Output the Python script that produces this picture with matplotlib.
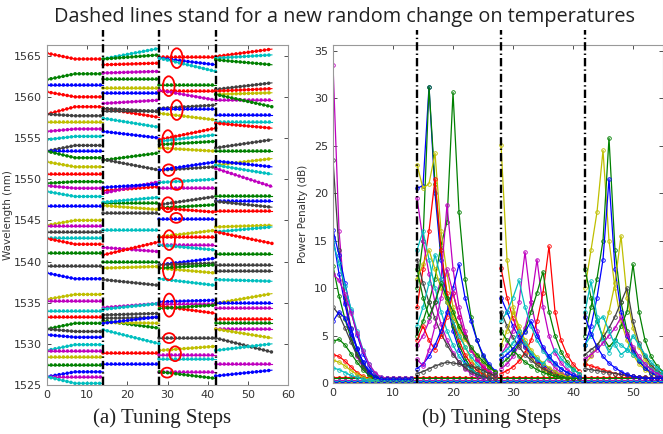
import numpy as np
import matplotlib
matplotlib.use("Agg")
import matplotlib.pyplot as plt
from matplotlib.patches import Ellipse

plt.rcParams['lines.scale_dashes'] = False

# matlab style colours
C = {'b': '#0000ff', 'g': '#008000', 'r': '#ff0000', 'c': '#00bfbf',
     'm': '#bf00bf', 'y': '#bfbf00', 'k': '#404040'}

# segment boundaries (tuning steps) and the kink inside segment 1
seg_bounds = [0, 14, 28, 42, 56]
kink1 = 7

# ---------------- (a) wavelengths ----------------
lam1_col = ['r', 'g', 'b', 'r', 'r', 'k', 'y', 'm', 'c', 'k', 'b', 'g', 'y', 'r', 'g', 'm', 'c', 'b', 'y', 'm',
            'k', 'c', 'r', 'g', 'k', 'b', 'y', 'm', 'c', 'r', 'g', 'k', 'b', 'c', 'm', 'y', 'g', 'b', 'm', 'c']
lam1_start = [1565.3, 1562.1, 1561.4, 1560.6, 1557.9, 1557.9, 1557.0, 1555.8, 1554.8, 1553.4,
              1553.4, 1553.4, 1552.1, 1550.6, 1549.5, 1549.2, 1548.5, 1546.8, 1544.4, 1544.3,
              1543.6, 1542.8, 1542.8, 1541.0, 1539.4, 1538.6, 1535.4, 1535.2, 1534.0, 1533.2,
              1531.8, 1531.8, 1531.1, 1529.2, 1529.1, 1528.4, 1527.4, 1526.0, 1526.0, 1526.0]
lam1_end = [1564.6, 1562.8, 1561.4, 1560.0, 1558.8, 1557.7, 1557.0, 1556.1, 1555.2, 1554.1,
            1553.4, 1552.6, 1551.5, 1550.6, 1549.7, 1548.9, 1547.9, 1546.8, 1545.0, 1544.3,
            1543.6, 1542.8, 1542.1, 1541.0, 1539.4, 1537.9, 1536.0, 1535.2, 1534.0, 1533.2,
            1532.5, 1531.5, 1530.8, 1529.9, 1529.1, 1528.4, 1527.4, 1526.6, 1526.0, 1525.2]

lam2_col = ['c', 'g', 'r', 'm', 'g', 'y', 'b', 'm', 'r', 'k', 'k', 'c', 'b', 'g', 'k', 'r', 'm', 'b', 'g',
            'c', 'y', 'k', 'c', 'm', 'r', 'g', 'y', 'k', 'm', 'c', 'k', 'k', 'g', 'y', 'b', 'c', 'r', 'b']
lam2_start = [1564.6, 1564.6, 1563.9, 1562.9, 1562.2, 1561.1, 1560.5, 1559.2, 1558.6, 1558.3,
              1558.6, 1557.4, 1555.8, 1552.3, 1552.4, 1548.6, 1548.3, 1549.0, 1547.1, 1547.2,
              1546.8, 1545.9, 1543.8, 1541.7, 1540.8, 1539.9, 1539.2, 1537.8, 1534.4, 1534.2,
              1533.5, 1533.1, 1532.8, 1532.6, 1532.5, 1531.7, 1528.9, 1527.5]
lam2_end = [1565.9, 1565.1, 1564.1, 1563.1, 1562.2, 1561.1, 1560.5, 1559.6, 1557.5, 1558.3,
            1558.2, 1556.3, 1555.0, 1553.2, 1551.1, 1549.1, 1549.7, 1549.4, 1547.1, 1547.8,
            1546.3, 1545.9, 1543.8, 1541.2, 1542.4, 1539.9, 1539.4, 1537.1, 1534.9, 1534.9,
            1533.7, 1533.2, 1531.9, 1532.5, 1533.3, 1530.0, 1528.9, 1527.5]

lam3_col = ['r', 'b', 'c', 'g', 'r', 'm', 'k', 'b', 'y', 'r', 'c', 'g', 'y', 'k', 'b', 'c', 'm', 'k', 'g', 'r',
            'b', 'y', 'r', 'm', 'c', 'b', 'k', 'y', 'g', 'c', 'b', 'm', 'r', 'g', 'k', 'y', 'm', 'c', 'm', 'g']
lam3_start = [1564.9, 1564.7, 1564.7, 1561.5, 1560.7, 1560.8, 1558.6, 1558.5, 1558.0, 1554.8,
              1554.6, 1554.2, 1553.8, 1551.1, 1551.1, 1549.6, 1548.9, 1546.9, 1546.5, 1546.5,
              1545.2, 1543.0, 1543.0, 1542.0, 1542.0, 1539.6, 1539.6, 1539.2, 1539.2, 1537.9,
              1535.1, 1534.9, 1534.6, 1534.3, 1530.7, 1529.2, 1528.6, 1528.1, 1526.6, 1526.6]
lam3_end = [1564.9, 1563.9, 1563.1, 1561.5, 1560.7, 1559.6, 1559.0, 1558.5, 1557.2, 1556.2,
            1555.4, 1554.6, 1553.4, 1551.5, 1552.1, 1550.0, 1548.9, 1547.9, 1546.9, 1546.0,
            1545.2, 1543.8, 1543.0, 1542.0, 1541.4, 1540.4, 1539.8, 1538.6, 1539.6, 1537.1,
            1535.3, 1534.9, 1533.7, 1534.7, 1530.7, 1529.7, 1528.6, 1528.1, 1526.6, 1525.8]

lam4_col = ['r', 'c', 'g', 'k', 'r', 'y', 'm', 'g', 'b', 'c', 'r', 'k', 'g', 'y', 'b', 'c', 'm', 'g', 'b', 'k',
            'r', 'y', 'c', 'r', 'g', 'k', 'k', 'c', 'y', 'b', 'm', 'r', 'g', 'm', 'y', 'k', 'c', 'm', 'b']
lam4_start = [1564.9, 1564.7, 1564.5, 1560.9, 1560.7, 1560.3, 1559.6, 1560.3, 1557.8, 1556.9,
              1556.8, 1553.8, 1553.4, 1551.7, 1552.2, 1551.7, 1551.3, 1547.9, 1547.3, 1547.3,
              1546.1, 1544.2, 1543.6, 1543.6, 1540.9, 1539.6, 1538.8, 1537.8, 1534.9, 1535.0,
              1534.3, 1533.0, 1532.5, 1531.8, 1531.8, 1530.7, 1529.2, 1527.6, 1526.1]
lam4_end = [1565.8, 1565.1, 1563.9, 1561.7, 1561.0, 1560.5, 1559.6, 1558.8, 1557.8, 1556.9,
            1556.2, 1554.8, 1553.4, 1552.5, 1551.5, 1550.6, 1549.1, 1547.9, 1547.3, 1546.6,
            1546.1, 1544.4, 1544.2, 1542.2, 1540.9, 1539.6, 1538.8, 1537.6, 1536.1, 1535.0,
            1534.3, 1533.0, 1532.5, 1531.8, 1530.7, 1529.0, 1530.0, 1527.6, 1526.8]

# red ellipses (tuning step, wavelength, height in nm)
ell_x = [32.3, 30.3, 32.3, 30.1, 30.3, 32.3, 30.1, 32.2, 30.4, 30.3, 30.4, 30.4, 31.9, 29.9]
ell_y = [1564.7, 1561.3, 1558.4, 1554.6, 1551.1, 1549.4, 1546.9, 1545.3, 1542.6, 1539.1,
         1534.7, 1530.7, 1528.8, 1526.5]
ell_h = [2.4, 2.4, 2.4, 2.7, 1.4, 1.4, 1.8, 1.2, 2.4, 2.7, 2.8, 1.2, 1.8, 1.2]

# ---------------- (b) power penalty ----------------
pp1_col = ['m', 'k', 'b', 'b', 'c', 'g', 'm', 'k', 'g', 'r', 'y', 'c', 'b']
pp1 = [
    [33.5, 16, 8.5, 4.8, 2.8, 1.6, 0.9, 0.6, 0.5, 0.5, 0.5, 0.5, 0.5, 0.5],
    [23.5, 14, 9, 5.8, 3.6, 2.1, 1.2, 0.7, 0.5, 0.4, 0.4, 0.4, 0.4, 0.4],
    [16.1, 13.5, 10.5, 7.6, 5.1, 3.1, 1.7, 0.9, 0.5, 0.4, 0.4, 0.4, 0.4, 0.4],
    [15.4, 11.5, 8.3, 5.7, 3.7, 2.2, 1.2, 0.7, 0.5, 0.5, 0.5, 0.5, 0.5, 0.5],
    [14.8, 12.6, 10.2, 7.8, 5.5, 3.5, 2.0, 1.0, 0.6, 0.5, 0.5, 0.5, 0.5, 0.5],
    [12.3, 9.2, 6.7, 4.7, 3.1, 1.9, 1.1, 0.6, 0.4, 0.4, 0.4, 0.4, 0.4, 0.4],
    [11.5, 10.8, 9.4, 7.4, 5.3, 3.4, 2.0, 1.1, 0.6, 0.5, 0.5, 0.5, 0.5, 0.5],
    [8.0, 7.2, 5.8, 4.3, 2.9, 1.8, 1.0, 0.6, 0.4, 0.4, 0.4, 0.4, 0.4, 0.4],
    [4.4, 4.6, 4.0, 3.1, 2.2, 1.4, 0.8, 0.5, 0.3, 0.3, 0.3, 0.3, 0.3, 0.3],
    [3.0, 2.8, 2.3, 1.7, 1.1, 0.7, 0.4, 0.3, 0.3, 0.3, 0.3, 0.3, 0.3, 0.3],
    [2.4, 2.2, 1.8, 1.3, 0.9, 0.6, 0.4, 0.3, 0.3, 0.3, 0.3, 0.3, 0.3, 0.3],
    [1.6, 1.4, 1.1, 0.8, 0.6, 0.4, 0.3, 0.3, 0.3, 0.3, 0.3, 0.3, 0.3, 0.3],
    [6.5, 7.5, 6.8, 5.2, 3.6, 2.2, 1.2, 0.6, 0.4, 0.4, 0.4, 0.4, 0.4, 0.4],
]
pp2_col = ['b', 'g', 'g', 'y', 'r', 'm', 'm', 'c', 'k', 'c', 'r', 'b', 'y', 'm', 'g', 'k']
pp2 = [
    [20.5, 20.8, 31.2, 20, 13, 8.5, 5.5, 3.5, 2.2, 1.4, 0.9, 0.6, 0.5, 0.5],
    [10, 15, 31.2, 21, 14, 9, 6, 4, 2.6, 1.6, 1.0, 0.7, 0.5, 0.5],
    [5, 6.5, 8.5, 11, 14.5, 17, 30.6, 18, 11, 7, 4.5, 2.8, 1.8, 1.2],
    [23, 20.5, 21, 24.2, 16, 11.5, 8, 5.5, 3.8, 2.5, 1.6, 1.0, 0.7, 0.5],
    [8, 12, 16, 21.5, 14, 9.5, 6.5, 4.5, 3, 2, 1.3, 0.9, 0.6, 0.5],
    [19.5, 15, 11.5, 8.5, 6.2, 4.5, 3.2, 2.2, 1.5, 1.0, 0.7, 0.5, 0.5, 0.5],
    [4, 5, 6.5, 8.5, 11, 18.8, 12, 8, 5.5, 3.6, 2.4, 1.6, 1.0, 0.7],
    [14, 16, 13, 10, 7.5, 5.5, 4, 2.8, 2, 1.4, 1.0, 0.7, 0.5, 0.5],
    [13, 10.5, 8.5, 6.8, 5.2, 4, 3, 2.2, 1.6, 1.2, 0.9, 0.7, 0.5, 0.5],
    [6, 8, 10.5, 13.5, 11, 8.5, 6.5, 5, 3.8, 2.8, 2.0, 1.4, 1.0, 0.7],
    [4.5, 6, 4.5, 3.5, 5, 7, 9.5, 7, 5, 3.5, 2.5, 1.7, 1.1, 0.7],
    [1.5, 2, 2.8, 4, 5.5, 7.5, 10, 12.5, 9, 6.5, 4.5, 3, 2, 1.3],
    [11, 12.5, 14, 12, 10, 8.5, 7, 5.8, 4.6, 3.6, 2.8, 2.1, 1.6, 1.2],
    [2.5, 1.8, 3.5, 6, 9, 12, 9.5, 7, 5, 3.5, 2.5, 1.8, 1.3, 0.9],
    [12, 9, 7, 8.5, 10.5, 9, 7.5, 6, 4.8, 3.8, 3, 2.3, 1.7, 1.2],
    [1, 1.2, 1.5, 1.8, 2, 2.2, 2.1, 2, 1.9, 1.8, 1.6, 1.3, 1, 0.8],
]
pp3_col = ['y', 'r', 'b', 'm', 'm', 'r', 'g', 'c', 'k', 'y', 'c', 'g', 'b']
pp3 = [
    [25.1, 13, 8, 5.5, 3.8, 2.7, 1.9, 1.4, 1.0, 0.8, 0.6, 0.5, 0.5, 0.5],
    [12.1, 9, 6.8, 5.2, 4, 3, 2.3, 1.7, 1.3, 1.0, 0.8, 0.6, 0.5, 0.5],
    [9, 7.5, 6, 4.8, 3.8, 3, 2.4, 1.9, 1.5, 1.2, 0.9, 0.7, 0.5, 0.5],
    [3, 4, 5.5, 8.5, 13.8, 8.5, 5.5, 3.6, 2.4, 1.6, 1.1, 0.8, 0.6, 0.5],
    [1.5, 2, 2.8, 4, 5.8, 8.5, 13.0, 8, 5, 3.2, 2.1, 1.4, 1.0, 0.7],
    [1, 1.3, 1.7, 2.3, 3.2, 4.5, 6.5, 9.5, 14.4, 7.5, 4.5, 3, 2, 1.3],
    [2, 2.5, 3.2, 4.2, 5.5, 7.5, 9.5, 11.7, 7.5, 5, 3.3, 2.2, 1.5, 1.0],
    [6.5, 7.5, 9, 10.8, 8, 6, 4.5, 3.4, 2.6, 2, 1.5, 1.1, 0.8, 0.6],
    [7.5, 6, 4.8, 3.8, 3, 2.4, 1.9, 1.5, 1.2, 0.9, 0.7, 0.6, 0.5, 0.5],
    [4, 5.5, 7.5, 6, 4.5, 3.5, 2.7, 2.1, 1.6, 1.2, 0.9, 0.7, 0.6, 0.5],
    [3, 3.5, 4.2, 5.5, 4.2, 3.2, 2.5, 2.0, 2.8, 3.5, 2.6, 1.9, 1.4, 1.0],
    [5.5, 4.5, 3.5, 2.8, 2.2, 1.8, 1.4, 1.1, 0.9, 0.7, 0.6, 0.5, 0.5, 0.5],
    [2.5, 3, 3.6, 4.4, 5.4, 6.5, 5, 3.8, 2.8, 2.1, 1.5, 1.1, 0.8, 0.6],
]
pp4_col = ['y', 'g', 'b', 'y', 'g', 'k', 'c', 'm', 'r', 'c', 'k', 'b']
pp4 = [
    [10, 14, 18, 24.5, 15, 10, 6.5, 4.5, 3, 2, 1.4, 1.0, 0.7, 0.6],
    [5, 8, 11, 15, 25.8, 14, 8.5, 5.5, 3.6, 2.4, 1.6, 1.1, 0.8, 0.6],
    [4, 6, 9, 13, 21.5, 12, 7.5, 5, 3.4, 2.3, 1.6, 1.1, 0.8, 0.6],
    [2, 2.8, 3.8, 5.2, 7.5, 10.5, 15.5, 9, 5.8, 3.8, 2.5, 1.7, 1.2, 0.8],
    [12, 9, 6.5, 4.8, 3.8, 4.5, 6, 7.5, 12.5, 7.5, 4.5, 2.8, 1.8, 1.2],
    [3, 3.5, 4, 4.8, 5.8, 7, 8.5, 10, 6.5, 4.2, 2.8, 1.9, 1.3, 0.9],
    [7.5, 10.7, 7, 4.5, 3.2, 4.5, 4, 3.5, 3, 2.5, 2, 1.5, 1.1, 0.8],
    [2.5, 3, 3.5, 4.2, 5, 5.8, 6.9, 5.2, 3.8, 2.8, 2, 1.4, 1.0, 0.7],
    [2, 1.8, 1.6, 1.4, 1.2, 1.0, 0.9, 0.8, 0.7, 0.6, 0.6, 0.5, 0.5, 0.5],
    [4, 5, 6.5, 7, 5.5, 4, 3, 3.5, 5, 4, 3, 2.2, 1.6, 1.1],
    [1.5, 1.4, 1.3, 1.2, 1.1, 1.0, 0.9, 0.8, 0.7, 0.6, 0.6, 0.5, 0.5, 0.5],
    [7, 5.2, 3.8, 2.8, 2.1, 1.6, 1.2, 0.9, 0.7, 0.6, 0.5, 0.5, 0.5, 0.5],
]
# flat channels sitting near zero penalty
base_col = ['r', 'g', 'm', 'c', 'b', 'y']
base_lvl = [0.65, 0.5, 0.35, 0.25, 0.15, 0.05]

fig = plt.figure(figsize=(6.63, 4.34), dpi=100)
ax1 = fig.add_axes([0.0709, 0.1129, 0.3635, 0.7834])
ax2 = fig.add_axes([0.5023, 0.1175, 0.4977, 0.7788])

def beads(ax, xs, ys, c, gap=2.9, lw=2.6):
    ax.plot(xs, ys, color=C[c], lw=0.8)
    ax.plot(xs, ys, color=C[c], lw=lw, ls=(0, (0.05, gap)), dash_capstyle='round')

# (a)
for c, s, e in zip(lam1_col, lam1_start, lam1_end):
    beads(ax1, [seg_bounds[0], kink1, seg_bounds[1]], [s, e, e], c)
segs = [(lam2_col, lam2_start, lam2_end), (lam3_col, lam3_start, lam3_end), (lam4_col, lam4_start, lam4_end)]
for i, (cols, st, en) in enumerate(segs):
    for c, s, e in zip(cols, st, en):
        beads(ax1, [seg_bounds[i + 1], seg_bounds[i + 2]], [s, e], c)
for x, y, h in zip(ell_x, ell_y, ell_h):
    ax1.add_patch(Ellipse((x, y), 2.9, h, fill=False, ec='red', lw=1.3, zorder=5))

# (b)
for i, (cols, vals) in enumerate([(pp1_col, pp1), (pp2_col, pp2), (pp3_col, pp3), (pp4_col, pp4)]):
    x0 = seg_bounds[i]
    for c, b in zip(base_col, base_lvl):
        beads(ax2, [x0, x0 + 14], [b, b], c, gap=4.3, lw=2.2)
    for c, v in zip(cols, vals):
        xs = np.arange(x0, x0 + len(v))
        ax2.plot(xs, v, color=C[c], lw=0.9, marker='o', ms=2.6, mfc='none', mew=0.6)

dashdot = (0, (6, 2.2, 1, 2.2))
for ax in (ax1, ax2):
    for xb in seg_bounds[1:4]:
        ax.axvline(xb, ymin=0, ymax=1.045, color='k', lw=1.7, ls=dashdot, clip_on=False, zorder=6)
    ax.tick_params(direction='in', top=True, right=True, labelsize=8, colors='#333333',
                   length=3, width=0.6)
    for sp in ax.spines.values():
        sp.set_color('#999999')
        sp.set_linewidth(0.8)

ax1.set_xlim(0, 60)
ax1.set_ylim(1525, 1566.3)
ax1.set_xticks(range(0, 61, 10))
ax1.set_yticks(range(1525, 1566, 5))
ax1.set_ylabel('Wavelength (nm)', fontsize=7.5, color='#333333', labelpad=1)

ax2.set_xlim(0, 55)
ax2.set_ylim(0, 35.6)
ax2.set_xticks(range(0, 51, 10))
ax2.set_yticks(range(0, 36, 5))
ax2.set_ylabel('Power Penalty (dB)', fontsize=7.5, color='#333333', labelpad=4)

fig.text(0.52, 0.961, 'Dashed lines stand for a new random change on temperatures',
         ha='center', va='center', fontsize=14.3, family='Open Sans', color='#222222')
fig.text(0.245, 0.036, '(a) Tuning Steps', ha='center', va='center', fontsize=15,
         family='Liberation Serif', color='#222222')
fig.text(0.742, 0.036, '(b) Tuning Steps', ha='center', va='center', fontsize=15,
         family='Liberation Serif', color='#222222')

fig.savefig('out.png', dpi=100)
